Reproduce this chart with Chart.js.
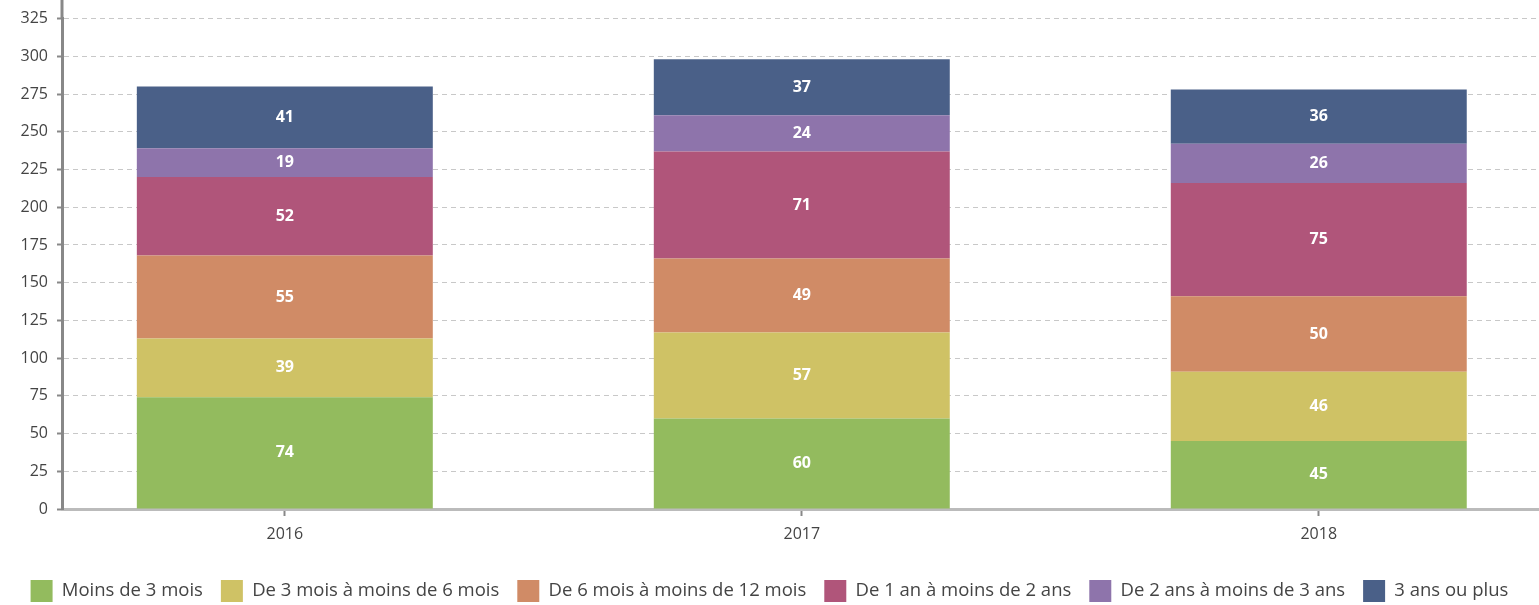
<!DOCTYPE html>
<html>
<head>
<meta charset="utf-8">
<script src="https://cdn.jsdelivr.net/npm/chart.js@4.4.1/dist/chart.umd.min.js"></script>
<style>
  html, body { margin: 0; padding: 0; background: #fff; }
  #wrap { width: 1539px; height: 605px; position: relative; }
</style>
</head>
<body>
<div id="wrap"><canvas id="chart"></canvas></div>
<script>
const years = ['2016', '2017', '2018'];
const seriesNames = ['Moins de 3 mois', 'De 3 mois à moins de 6 mois', 'De 6 mois à moins de 12 mois',
  'De 1 an à moins de 2 ans', 'De 2 ans à moins de 3 ans', '3 ans ou plus'];
const moins3mois = [74, 60, 45];
const de3a6mois = [39, 57, 46];
const de6a12mois = [55, 49, 50];
const de1a2ans = [52, 71, 75];
const de2a3ans = [19, 24, 26];
const plus3ans = [41, 37, 36];
const yTicks = [0, 25, 50, 75, 100, 125, 150, 175, 200, 225, 250, 275, 300, 325];

const colors = ['#93bb5e', '#cfc265', '#d08b66', '#b0557a', '#8e74ab', '#4a6088'];
const values = [moins3mois, de3a6mois, de6a12mois, de1a2ans, de2a3ans, plus3ans];

const fontFamily = '"Open Sans", Lato, sans-serif';

// labels inside each segment
const segmentLabels = {
  id: 'segmentLabels',
  afterDatasetsDraw(chart) {
    const ctx = chart.ctx;
    ctx.save();
    ctx.fillStyle = '#fff';
    ctx.font = 'bold 16px ' + fontFamily;
    ctx.textAlign = 'center';
    ctx.textBaseline = 'middle';
    chart.data.datasets.forEach((ds, i) => {
      chart.getDatasetMeta(i).data.forEach((bar, j) => {
        const p = bar.getProps(['x', 'y', 'base'], true);
        ctx.fillText(ds.data[j], p.x, (p.y + p.base) / 2);
      });
    });
    ctx.restore();
  }
};

// y axis line goes up past the last tick
const axisTop = {
  id: 'axisTop',
  afterDraw(chart) {
    const ctx = chart.ctx;
    const a = chart.chartArea;
    ctx.save();
    ctx.strokeStyle = '#888';
    ctx.lineWidth = 3;
    ctx.beginPath();
    ctx.moveTo(a.left, 0);
    ctx.lineTo(a.left, a.top);
    ctx.stroke();
    ctx.restore();
  }
};

new Chart(document.getElementById('chart'), {
  type: 'bar',
  data: {
    labels: years,
    datasets: seriesNames.map((name, i) => ({
      label: name,
      data: values[i],
      backgroundColor: colors[i],
      borderWidth: 0,
      categoryPercentage: 1,
      barPercentage: 0.5725
    }))
  },
  options: {
    responsive: true,
    maintainAspectRatio: false,
    animation: false,
    layout: { padding: { top: 16, left: 0, right: 0, bottom: -7 } },
    plugins: {
      tooltip: { enabled: false },
      legend: {
        position: 'bottom',
        labels: {
          boxWidth: 22,
          boxHeight: 22,
          padding: 18,
          color: '#444',
          font: { family: fontFamily, size: 18.5 }
        }
      }
    },
    scales: {
      x: {
        type: 'linear',
        stacked: true,
        offset: false,
        min: 2015.569,
        max: 2018.426,
        afterBuildTicks: scale => { scale.ticks = years.map(y => ({ value: +y })); },
        afterFit: scale => { scale.height = 53; },
        ticks: {
          callback: (v, i) => years[i],
          color: '#444',
          padding: 9,
          font: { family: fontFamily, size: 16 }
        },
        grid: { display: true, offset: false, drawOnChartArea: false, drawTicks: true, tickLength: 7, tickColor: '#888', tickWidth: 2 },
        border: { display: true, color: '#bbb', width: 3 }
      },
      y: {
        stacked: true,
        min: 0,
        max: 325,
        afterBuildTicks: scale => { scale.ticks = yTicks.map(v => ({ value: v })); },
        afterFit: scale => { scale.width = 62; },
        ticks: {
          color: '#444',
          padding: 9,
          font: { family: fontFamily, size: 16 }
        },
        grid: {
          color: ctx => ctx.tick && ctx.tick.value === 0 ? '#888' : '#c8c8c8',
          lineWidth: 1,
          tickLength: 5,
          tickColor: '#888',
          tickWidth: 2
        },
        border: { display: true, color: '#888', width: 3, dash: [5, 4] }
      }
    }
  },
  plugins: [segmentLabels, axisTop]
});
</script>
</body>
</html>
